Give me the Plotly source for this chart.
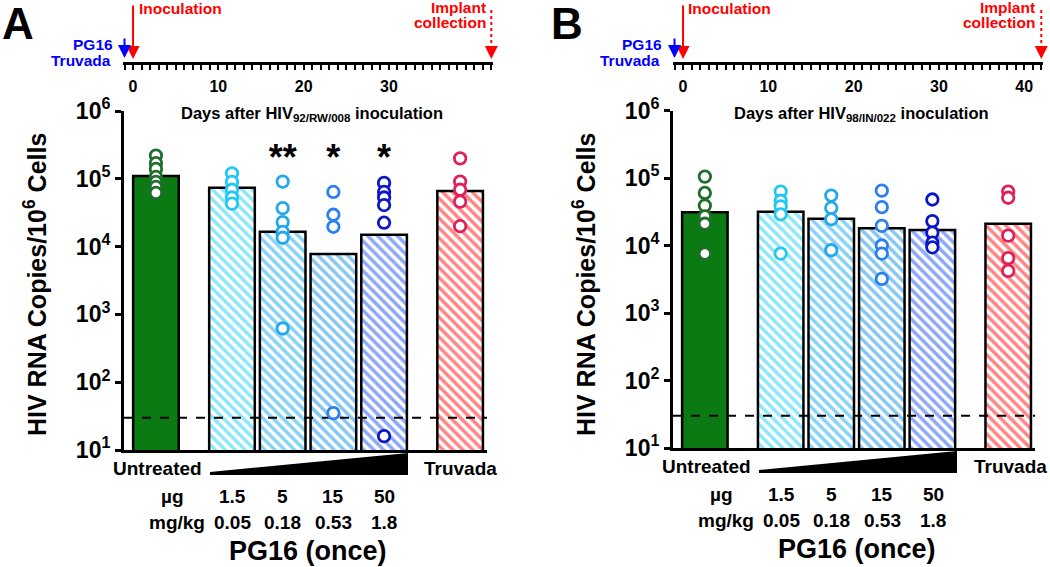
import plotly.graph_objects as go

# ---------------- data ----------------
GROUPS = ["Untreated", "PG16 1.5 µg", "PG16 5 µg", "PG16 15 µg", "PG16 50 µg", "Truvada"]
DOSE_UG = ["1.5", "5", "15", "50"]
DOSE_MGKG = ["0.05", "0.18", "0.53", "1.8"]

A_BARS = [1.1e5, 7.4e4, 1.65e4, 7.8e3, 1.5e4, 6.6e4]
A_POINTS = [
    [2.2e5, 1.7e5, 1.4e5, 1.07e5, 9.0e4, 7.6e4, 6.2e4],
    [1.2e5, 9.0e4, 6.9e4, 5.3e4, 4.3e4],
    [9.1e4, 3.7e4, 2.3e4, 1.65e4, 1.35e4, 620],
    [6.4e4, 2.95e4, 1.96e4, 35],
    [8.7e4, 6.4e4, 5.3e4, 4.1e4, 2.25e4, 16],
    [2.0e5, 9.1e4, 6.9e4, 4.6e4, 2.0e4],
]
A_SIG = ["", "", "**", "*", "*", ""]

B_BARS = [3.1e4, 3.15e4, 2.5e4, 1.8e4, 1.7e4, 2.1e4]
B_POINTS = [
    [1.05e5, 6.0e4, 3.9e4, 2.7e4, 2.1e4, 7.6e3],
    [6.3e4, 4.6e4, 3.8e4, 2.9e4, 7.6e3],
    [5.5e4, 3.6e4, 2.45e4, 8.5e3],
    [6.5e4, 3.7e4, 1.95e4, 1.0e4, 7.6e3, 3.2e3],
    [4.8e4, 2.3e4, 1.55e4, 1.1e4, 9.4e3],
    [6.3e4, 5.1e4, 1.4e4, 6.5e3, 4.2e3],
]
B_SIG = ["", "", "", "", "", ""]

LOD = 30
DOSE_DAY, INOC_DAY, COLLECT_DAY = -1, 0, 42
TIME_TICKS_A = [0, 10, 20, 30]
TIME_TICKS_B = [0, 10, 20, 30, 40]
STRAINS = ["92/RW/008", "98/IN/022"]

# ---------------- style / layout ----------------
W, H = 1050, 567
FONT = "Liberation Sans, Arial, sans-serif"
SLOT = [0, 1.5, 2.5, 3.5, 4.5, 6.0]
BAR_FG = ["#0b7a13", "#1ccff5", "#0aa6ee", "#0a90ea", "#1a50f0", "#ff0a0a"]
MK_COL = ["#1f6e2c", "#22c8f2", "#24a8ec", "#2a80f0", "#0a16c8", "#e0205a"]


def px(x):
    return x / W


def py(y):
    return 1 - y / H


fig = go.Figure()
annotations = []
shapes = []

panels = [
    dict(xa="x", ya="y", tx="x3", ty="y3", dx=0, dy=0, bars=A_BARS, pts=A_POINTS,
         sig=A_SIG, ticks=TIME_TICKS_A, strain=STRAINS[0], letter="A"),
    dict(xa="x2", ya="y2", tx="x4", ty="y4", dx=549, dy=-2, bars=B_BARS, pts=B_POINTS,
         sig=B_SIG, ticks=TIME_TICKS_B, strain=STRAINS[1], letter="B"),
]


def tl(y):  # timeline pixel y -> timeline data coordinate
    return (62 - y) / 62


for p in panels:
    dx, dy = p["dx"], p["dy"]
    # bars
    for i, g in enumerate(GROUPS):
        if i == 0:
            marker = dict(color=BAR_FG[i], line=dict(color="black", width=2.5))
        else:
            marker = dict(color="white", line=dict(color="black", width=2.5),
                          pattern=dict(shape="\\", fgcolor=BAR_FG[i], bgcolor="white",
                                       size=7, solidity=0.5))
        fig.add_trace(go.Bar(x=[SLOT[i]], y=[p["bars"][i]], width=0.9, marker=marker,
                             xaxis=p["xa"], yaxis=p["ya"], showlegend=False))
    # LOD line
    fig.add_trace(go.Scatter(x=[-0.63, 6.53], y=[LOD, LOD], mode="lines",
                             line=dict(color="black", width=2, dash="dash"),
                             xaxis=p["xa"], yaxis=p["ya"], showlegend=False))
    # points
    for i, g in enumerate(GROUPS):
        vals = p["pts"][i]
        fig.add_trace(go.Scatter(x=[SLOT[i]] * len(vals), y=vals, mode="markers",
                                 marker=dict(symbol="circle", size=11.5, color="white",
                                             line=dict(color=MK_COL[i], width=2.8)),
                                 xaxis=p["xa"], yaxis=p["ya"], showlegend=False))
    # significance stars
    sx = [SLOT[i] for i, s in enumerate(p["sig"]) if s]
    st = [s for s in p["sig"] if s]
    if st:
        fig.add_trace(go.Scatter(x=sx, y=[1.8e5] * len(sx), mode="text", text=st,
                                 textposition="middle center",
                                 textfont=dict(family=FONT, size=36, color="black", weight="bold"),
                                 xaxis=p["xa"], yaxis=p["ya"], showlegend=False))
    # implant dotted line on timeline
    fig.add_trace(go.Scatter(x=[COLLECT_DAY, COLLECT_DAY], y=[tl(10), tl(50)], mode="lines",
                             line=dict(color="red", width=2, dash="dot"),
                             xaxis=p["tx"], yaxis=p["ty"], showlegend=False))

    # timeline arrows
    for day, y0, y1, col in [(INOC_DAY, 4, 59, "red"), (DOSE_DAY, 37, 58, "blue"),
                             (COLLECT_DAY, 47, 59, "red")]:
        annotations.append(dict(x=day, y=tl(y1), ax=day, ay=tl(y0), xref=p["tx"], yref=p["ty"],
                                axref=p["tx"], ayref=p["ty"], text="", showarrow=True,
                                arrowhead=2, arrowsize=1.3, arrowwidth=2, arrowcolor=col))

    def txt(x, y, s, size, color="black", xanchor="center", angle=0):
        annotations.append(dict(x=px(x), y=py(y), xref="paper", yref="paper",
                                text="<b>" + s + "</b>", showarrow=False, xanchor=xanchor,
                                yanchor="middle", textangle=angle,
                                font=dict(family=FONT, size=size, color=color)))

    txt(137 + dx, 8, "Inoculation", 15.5, "red", "left")
    txt(488 + dx, 7, "Implant", 15.5, "red", "right")
    txt(488 + dx, 22, "collection", 15.5, "red", "right")
    txt(115 + dx, 44, "PG16", 15.5, "blue", "right")
    txt(113 + dx, 61, "Truvada", 15.5, "blue", "right")
    txt(312 + dx, 114, "Days after HIV<sub>" + p["strain"] + "</sub> inoculation", 16.5)
    txt(18 + dx, 23, p["letter"], 44)
    txt(35 + dx, 285, "HIV RNA Copies/10<sup>6</sup> Cells", 25, angle=-90)
    txt(157 + dx, 468 + dy, "Untreated", 19)
    txt(461 + dx, 468 + dy, "Truvada", 19)
    txt(172 + dx, 496 + dy, "µg", 19)
    txt(177 + dx, 522 + dy, "mg/kg", 19)
    for k in range(4):
        cx = 156 + dx + SLOT[k + 1] * 50.7
        txt(cx, 496 + dy, DOSE_UG[k], 19)
        txt(cx, 522 + dy, DOSE_MGKG[k], 19)
    txt(308 + dx, 551 + dy, "PG16 (once)", 27)

    # dose wedge
    shapes.append(dict(type="path", xref="paper", yref="paper",
                       path=f"M {px(210+dx)} {py(475+dy)} L {px(210+dx)} {py(472+dy)} "
                            f"L {px(408+dx)} {py(453+dy)} L {px(408+dx)} {py(475+dy)} Z",
                       fillcolor="black", line=dict(width=0)))

ytickvals = [10, 100, 1000, 1e4, 1e5, 1e6]
yticktext = [f"<b>10<sup>{k}</sup></b>" for k in range(1, 7)]

bar_x = dict(range=[-0.63, 6.53], showline=True, linewidth=3, linecolor="black",
             showticklabels=False, ticks="", showgrid=False, zeroline=False,
             fixedrange=True, automargin=False)
bar_y = dict(type="log", range=[1, 6], showline=True, linewidth=3, linecolor="black",
             ticks="outside", ticklen=6, tickwidth=3, tickcolor="black",
             tickvals=ytickvals, ticktext=yticktext, showgrid=False, zeroline=False,
             tickfont=dict(family=FONT, size=23, color="black"), automargin=False)


def time_x(ticks):
    return dict(range=[-1.2, 42.2], showline=True, linewidth=3, linecolor="black",
                ticks="outside", ticklen=5, tickwidth=2, tickcolor="black", tickvals=ticks,
                ticktext=[f"<b>{t}</b>" for t in ticks], showgrid=False, zeroline=False,
                tickfont=dict(family=FONT, size=16, color="black"), ticklabelstandoff=3,
                automargin=False,
                minor=dict(dtick=1, tick0=0, ticks="outside", ticklen=5, tickwidth=2,
                           tickcolor="black", showgrid=False))


fig.update_layout(
    width=W, height=H, margin=dict(l=0, r=0, t=0, b=0, pad=0, autoexpand=False),
    paper_bgcolor="white", plot_bgcolor="white", showlegend=False, barmode="overlay",
    xaxis=dict(domain=[px(124), px(487)], anchor="y", **bar_x),
    yaxis=dict(domain=[py(450), py(111)], anchor="x", **bar_y),
    xaxis2=dict(domain=[px(673), px(1035)], anchor="y2", **bar_x),
    yaxis2=dict(domain=[py(448), py(110.5)], anchor="x2", **bar_y),
    xaxis3=dict(domain=[px(122.8), px(493)], anchor="y3", **time_x(TIME_TICKS_A)),
    yaxis3=dict(domain=[py(62), 1], anchor="x3", range=[0, 1], visible=False, automargin=False),
    xaxis4=dict(domain=[px(672.8), px(1043)], anchor="y4", **time_x(TIME_TICKS_B)),
    yaxis4=dict(domain=[py(62), 1], anchor="x4", range=[0, 1], visible=False, automargin=False),
    annotations=annotations, shapes=shapes,
    font=dict(family=FONT),
)

fig.write_html("out.html", config={"displayModeBar": False},
               post_script="document.body.style.margin='0';")
